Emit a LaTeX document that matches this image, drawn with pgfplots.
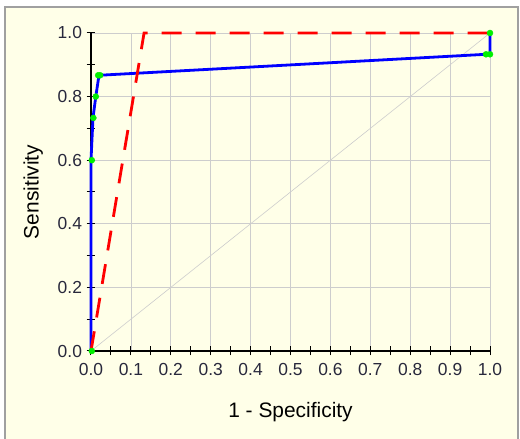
\documentclass[border=0pt]{standalone}
\usepackage{fontspec}
\setmainfont{Liberation Sans}
\usepackage{pgfplots}
\pgfplotsset{compat=1.18}
\definecolor{cream}{RGB}{255,255,232}
\definecolor{framegray}{RGB}{160,160,160}
\definecolor{gridgray}{RGB}{205,205,205}
\definecolor{mgreen}{RGB}{0,240,0}
\definecolor{ticktext}{RGB}{40,40,60}
\begin{document}
\begin{tikzpicture}[x=1bp,y=1bp]
\useasboundingbox (-91,-88) rectangle (429,351);
\fill[white] (-91,-88) rectangle (429,351);
\fill[cream] (-86,-130) rectangle (427,344);
\draw[framegray,line width=1.2bp] (-86,-130) -- (-86,344) -- (427,344) -- (427,-130);
\begin{axis}[
  at={(0,0)}, anchor=south west,
  scale only axis, width=399bp, height=318bp,
  xmin=0, xmax=1, ymin=0, ymax=1,
  clip=false,
  axis x line=bottom, axis y line=left,
  axis line style={-, black, line width=1.2bp},
  xtick={0,0.1,0.2,0.3,0.4,0.5,0.6,0.7,0.8,0.9,1},
  ytick={0,0.2,0.4,0.6,0.8,1},
  minor xtick={0.05,0.15,0.25,0.35,0.45,0.55,0.65,0.75,0.85,0.95},
  minor ytick={0.1,0.3,0.5,0.7,0.9},
  /pgf/number format/.cd, fixed, fixed zerofill, precision=1, assume math mode=true,
  /pgfplots/.cd,
  tick align=center,
  major tick length=9bp, minor tick length=9bp,
  every tick/.style={black, line width=1bp},
  grid=major,
  major grid style={gridgray, line width=0.8bp},
  tick label style={font=\fontsize{17.5}{17.5}\selectfont, text=ticktext},
  xticklabel style={yshift=-4bp},
  yticklabel style={xshift=-1bp},
  label style={font=\fontsize{21}{21}\selectfont},
  xlabel={1 - Specificity},
  ylabel={Sensitivity},
  xlabel style={at={(axis description cs:0.5,-0.192)}, anchor=center},
  ylabel style={at={(axis description cs:-0.145,0.5)}, anchor=center},
]
\addplot[gridgray, line width=0.6bp] coordinates {(0,0) (1,1)};
\addplot[blue, line width=2.8bp, line join=round] coordinates {
(0,0) (0,0.6) (0.005,0.733) (0.012,0.8) (0.02,0.867) (0.99,0.933) (1,0.933) (1,1)};
\addplot[red, line width=2.8bp, dash pattern=on 20bp off 14bp] coordinates {
(0,0) (0.133,1) (1,1)};
\addplot[only marks, mark=*, mark size=3bp, mgreen, mark options={draw=mgreen, fill=mgreen}] coordinates {
(0.002,0) (0.002,0.6) (0.006,0.733) (0.012,0.8) (0.018,0.867) (0.023,0.867) (0.99,0.933) (1,0.933) (1,1)};
\end{axis}
\end{tikzpicture}
\end{document}
